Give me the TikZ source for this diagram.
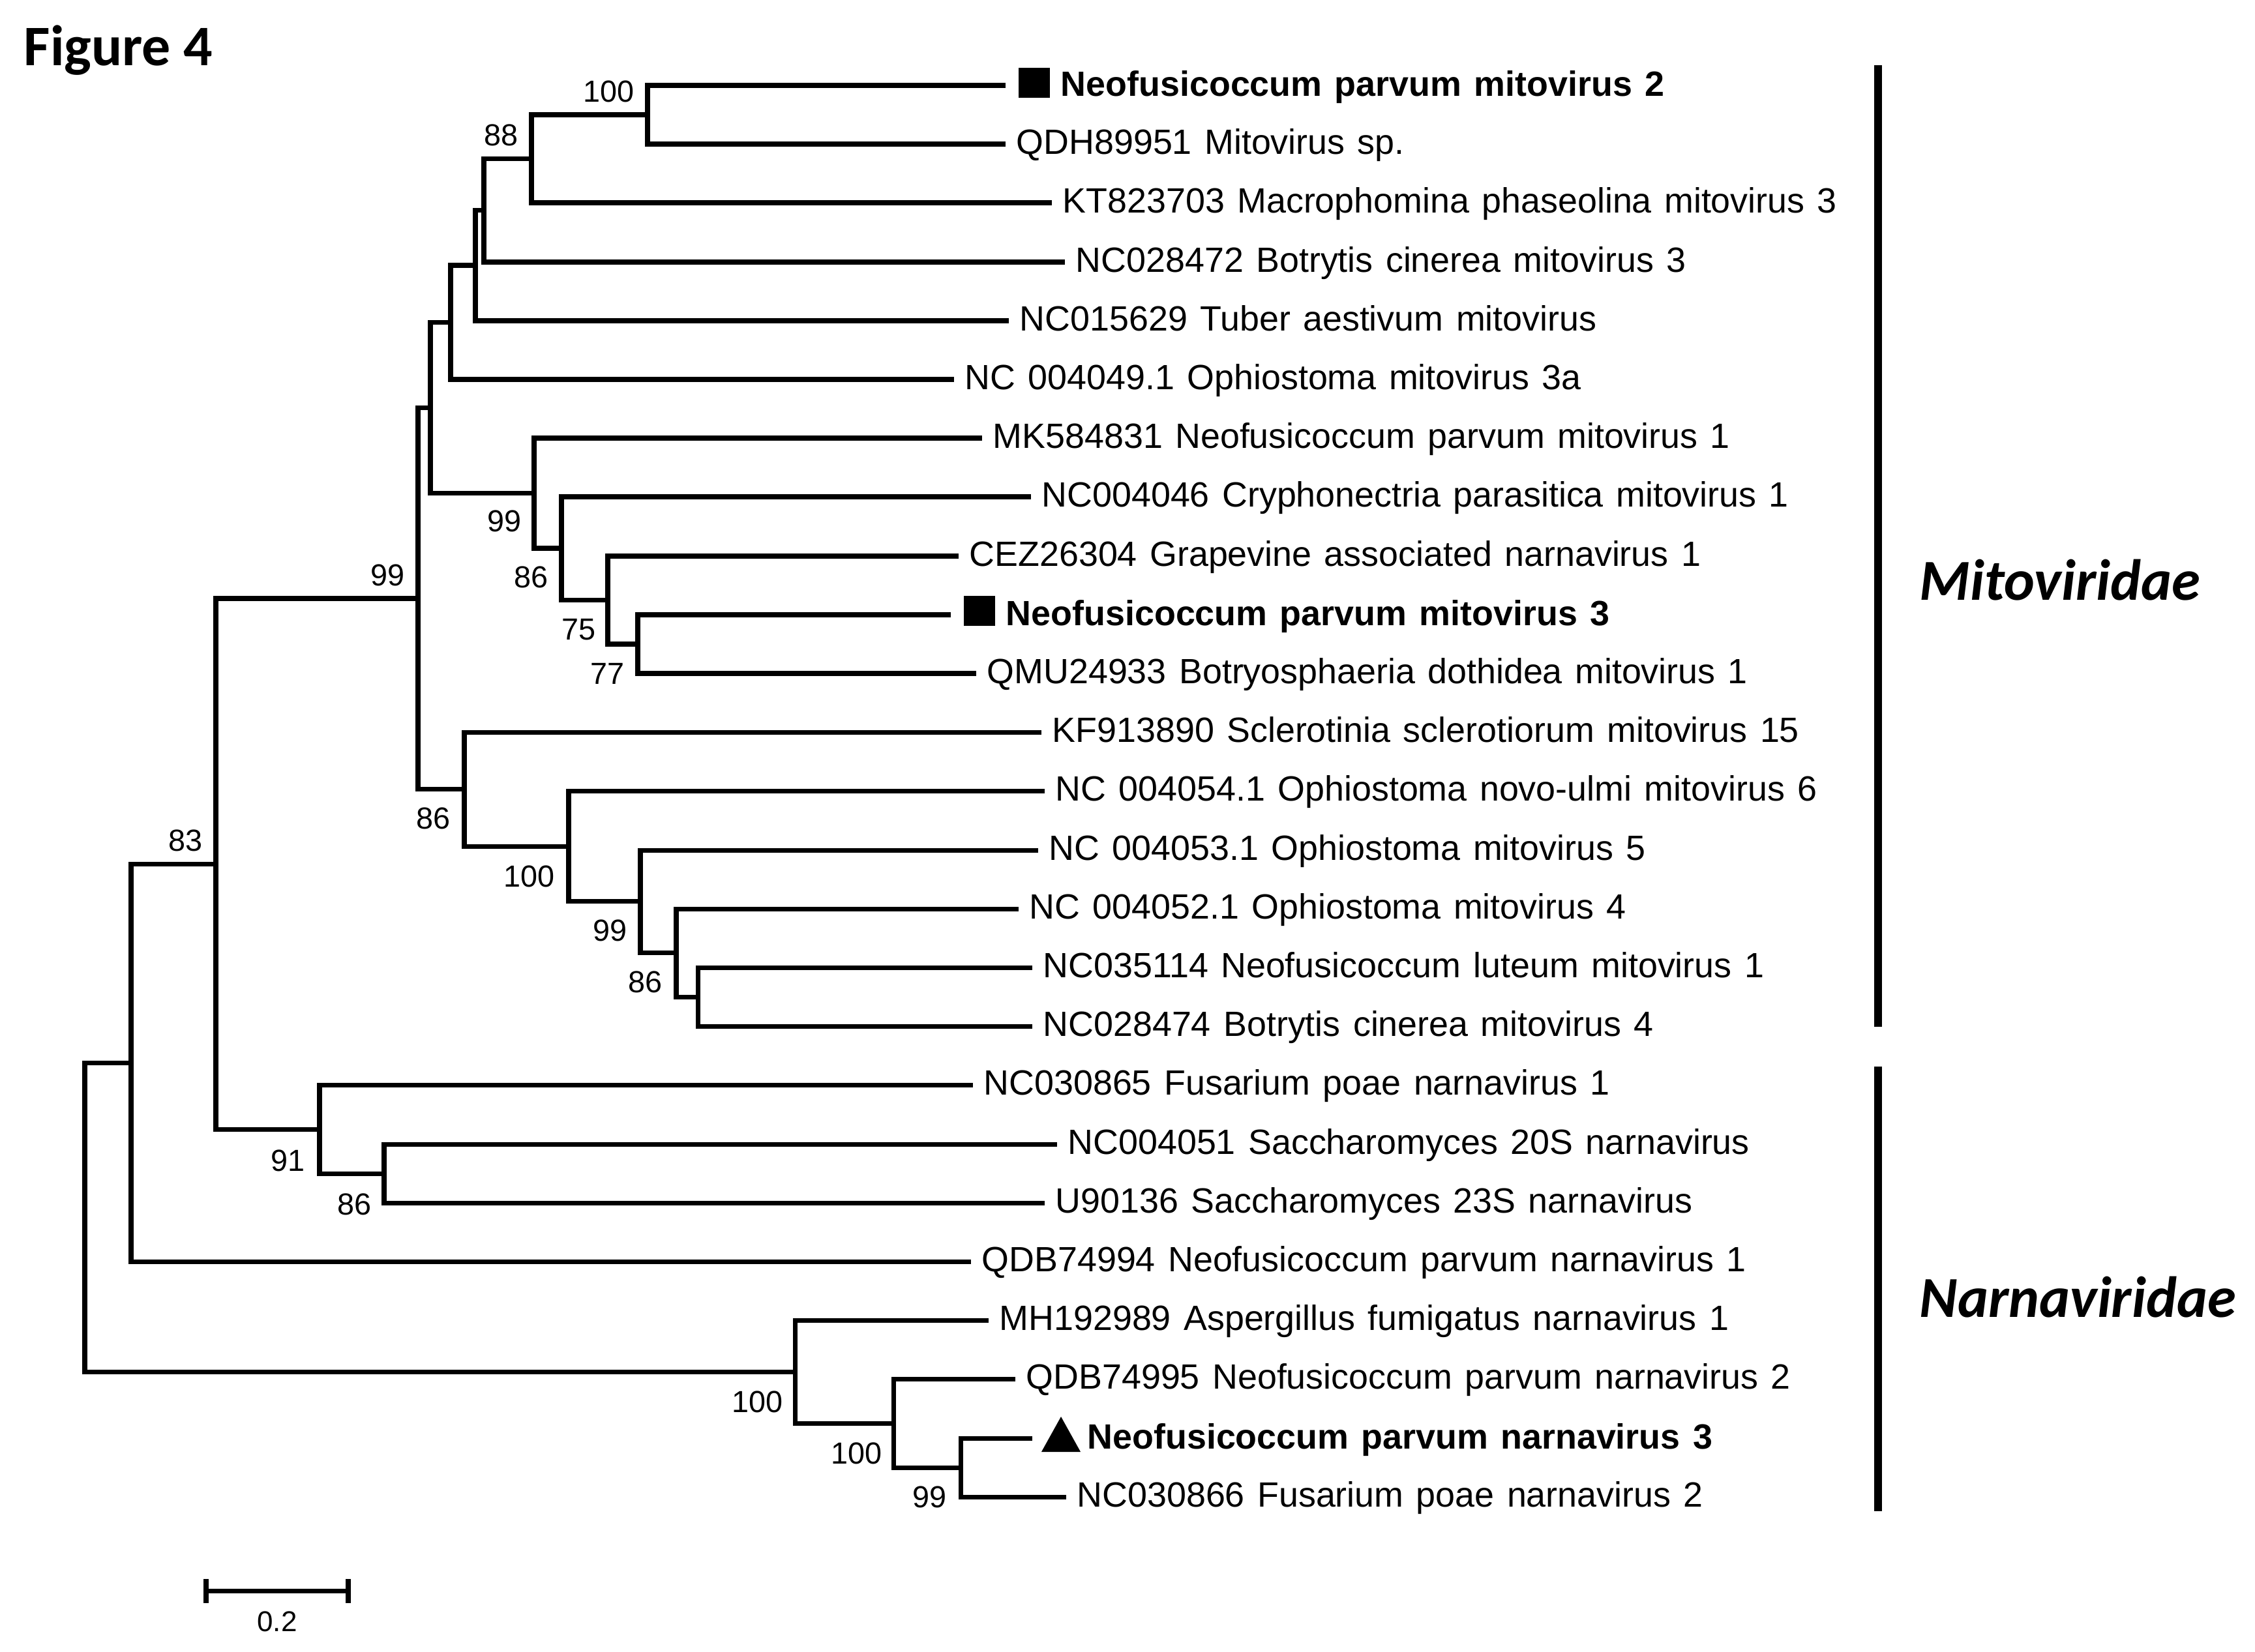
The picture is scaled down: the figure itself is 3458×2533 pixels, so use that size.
\documentclass[tikz,border=0pt]{standalone}
\usepackage{fontspec}
\newfontfamily\leaffont[WordSpace=1.3]{Liberation Sans}
\newfontfamily\calfont{Carlito}
\begin{document}
\begin{tikzpicture}[x=0.01cm,y=-0.01cm]
\tikzset{
  branch/.style={line width=2pt, line join=miter},
  famline/.style={line width=3.4pt},
  leaflab/.style={anchor=base west, inner sep=0pt, font=\leaffont\fontsize{15.3pt}{18pt}\selectfont},
  boldlab/.style={leaflab, font=\leaffont\fontsize{15.3pt}{18pt}\selectfont\bfseries},
  bsab/.style={anchor=base east, inner sep=0pt, font=\leaffont\fontsize{13.3pt}{16pt}\selectfont},
  sqmark/.style={fill=black, inner sep=0pt, minimum width=0.48cm, minimum height=0.46cm},
  famlab/.style={anchor=base west, inner sep=0pt, font=\calfont\fontsize{25.3pt}{30pt}\selectfont\bfseries\itshape},
}
\useasboundingbox (0,0) rectangle (3458,2533);

% title
\node[anchor=base west, inner sep=0pt, font=\calfont\fontsize{25pt}{30pt}\selectfont\bfseries] (title) at (36,100) {Figure 4};

% leaf tips
\coordinate (l1) at (1542,131);
\coordinate (l2) at (1542,221);
\coordinate (l3) at (1613,311);
\coordinate (l4) at (1633,402);
\coordinate (l5) at (1547,492);
\coordinate (l6) at (1463,582);
\coordinate (l7) at (1506,672);
\coordinate (l8) at (1581,762);
\coordinate (l9) at (1470,853);
\coordinate (l10) at (1458,943);
\coordinate (l11) at (1497,1033);
\coordinate (l12) at (1597,1123);
\coordinate (l13) at (1602,1213);
\coordinate (l14) at (1592,1304);
\coordinate (l15) at (1562,1394);
\coordinate (l16) at (1583,1484);
\coordinate (l17) at (1583,1574);
\coordinate (l18) at (1492,1664);
\coordinate (l19) at (1621,1755);
\coordinate (l20) at (1602,1845);
\coordinate (l21) at (1489,1935);
\coordinate (l22) at (1516,2025);
\coordinate (l23) at (1557,2115);
\coordinate (l24) at (1583,2206);
\coordinate (l25) at (1635,2296);

% internal nodes
\coordinate (A) at (993,176);
\coordinate (B) at (815,243.5);
\coordinate (C) at (742,322.5);
\coordinate (D) at (729,407);
\coordinate (E) at (691,494.5);
\coordinate (I) at (978,988);
\coordinate (H) at (932,920.5);
\coordinate (G) at (861,841);
\coordinate (F) at (819,756.5);
\coordinate (J) at (660,625.5);
\coordinate (O) at (1070,1529);
\coordinate (N) at (1037,1461.5);
\coordinate (M) at (982,1382.5);
\coordinate (L) at (872,1298);
\coordinate (K) at (712,1210.5);
\coordinate (P) at (641,918);
\coordinate (R) at (589,1800);
\coordinate (Q) at (490,1732);
\coordinate (S) at (331,1325);
\coordinate (T) at (201,1630);
\coordinate (W) at (1473,2251);
\coordinate (V) at (1370,2183);
\coordinate (U) at (1219,2104);
\coordinate (root) at (130,1867);

% branches
\draw[branch] (A) |- (l1);  \draw[branch] (A) |- (l2);
\draw[branch] (B) |- (A);   \draw[branch] (B) |- (l3);
\draw[branch] (C) |- (B);   \draw[branch] (C) |- (l4);
\draw[branch] (D) |- (C);   \draw[branch] (D) |- (l5);
\draw[branch] (E) |- (D);   \draw[branch] (E) |- (l6);
\draw[branch] (I) |- (l10); \draw[branch] (I) |- (l11);
\draw[branch] (H) |- (l9);  \draw[branch] (H) |- (I);
\draw[branch] (G) |- (l8);  \draw[branch] (G) |- (H);
\draw[branch] (F) |- (l7);  \draw[branch] (F) |- (G);
\draw[branch] (J) |- (E);   \draw[branch] (J) |- (F);
\draw[branch] (O) |- (l16); \draw[branch] (O) |- (l17);
\draw[branch] (N) |- (l15); \draw[branch] (N) |- (O);
\draw[branch] (M) |- (l14); \draw[branch] (M) |- (N);
\draw[branch] (L) |- (l13); \draw[branch] (L) |- (M);
\draw[branch] (K) |- (l12); \draw[branch] (K) |- (L);
\draw[branch] (P) |- (J);   \draw[branch] (P) |- (K);
\draw[branch] (R) |- (l19); \draw[branch] (R) |- (l20);
\draw[branch] (Q) |- (l18); \draw[branch] (Q) |- (R);
\draw[branch] (S) |- (P);   \draw[branch] (S) |- (Q);
\draw[branch] (T) |- (S);   \draw[branch] (T) |- (l21);
\draw[branch] (W) |- (l24); \draw[branch] (W) |- (l25);
\draw[branch] (V) |- (l23); \draw[branch] (V) |- (W);
\draw[branch] (U) |- (l22); \draw[branch] (U) |- (V);
\draw[branch] (root) |- (T); \draw[branch] (root) |- (U);

% bootstrap values
\path (A) ++(-20,-20) node[bsab] (bA) {100};
\path (B) ++(-20,-20) node[bsab] (bB) {88};
\path (P) ++(-20,-20) node[bsab] (bP) {99};
\path (S) ++(-20,-20) node[bsab] (bS) {83};
\path (F) ++(-19,59) node[bsab] (bF) {99};
\path (G) ++(-20,60) node[bsab] (bG) {86};
\path (H) ++(-18,61) node[bsab] (bH) {75};
\path (I) ++(-20,61) node[bsab] (bI) {77};
\path (K) ++(-21,61) node[bsab] (bK) {86};
\path (L) ++(-21,62) node[bsab] (bL) {100};
\path (M) ++(-20,61) node[bsab] (bM) {99};
\path (N) ++(-21,61) node[bsab] (bN) {86};
\path (Q) ++(-22,64) node[bsab] (bQ) {91};
\path (R) ++(-19,63) node[bsab] (bR) {86};
\path (U) ++(-18,62) node[bsab] (bU) {100};
\path (V) ++(-17,62) node[bsab] (bV) {100};
\path (W) ++(-21,61) node[bsab] (bW) {99};

% markers
\path (l1) ++(43.5,-4) node[sqmark] (m1) {};
\path (l10) ++(43.5,-6) node[sqmark] (m10) {};
\fill (l24) ++(14,21) -- ++(60,0) -- ++(-30,-54) -- cycle;

% leaf labels
\path (m1.east) ++(16,20) node[boldlab] (t1) {Neofusicoccum parvum mitovirus 2};
\path (l2) ++(16,15) node[leaflab] (t2) {QDH89951 Mitovirus sp.};
\path (l3) ++(16,15) node[leaflab] (t3) {KT823703 Macrophomina phaseolina mitovirus 3};
\path (l4) ++(16,15) node[leaflab] (t4) {NC028472 Botrytis cinerea mitovirus 3};
\path (l5) ++(16,15) node[leaflab] (t5) {NC015629 Tuber aestivum mitovirus};
\path (l6) ++(16,15) node[leaflab] (t6) {NC 004049.1 Ophiostoma mitovirus 3a};
\path (l7) ++(16,15) node[leaflab] (t7) {MK584831 Neofusicoccum parvum mitovirus 1};
\path (l8) ++(16,15) node[leaflab] (t8) {NC004046 Cryphonectria parasitica mitovirus 1};
\path (l9) ++(16,15) node[leaflab] (t9) {CEZ26304 Grapevine associated narnavirus 1};
\path (m10.east) ++(16,22) node[boldlab] (t10) {Neofusicoccum parvum mitovirus 3};
\path (l11) ++(16,15) node[leaflab] (t11) {QMU24933 Botryosphaeria dothidea mitovirus 1};
\path (l12) ++(16,15) node[leaflab] (t12) {KF913890 Sclerotinia sclerotiorum mitovirus 15};
\path (l13) ++(16,15) node[leaflab] (t13) {NC 004054.1 Ophiostoma novo-ulmi mitovirus 6};
\path (l14) ++(16,15) node[leaflab] (t14) {NC 004053.1 Ophiostoma mitovirus 5};
\path (l15) ++(16,15) node[leaflab] (t15) {NC 004052.1 Ophiostoma mitovirus 4};
\path (l16) ++(16,15) node[leaflab] (t16) {NC035114 Neofusicoccum luteum mitovirus 1};
\path (l17) ++(16,15) node[leaflab] (t17) {NC028474 Botrytis cinerea mitovirus 4};
\path (l18) ++(16,15) node[leaflab] (t18) {NC030865 Fusarium poae narnavirus 1};
\path (l19) ++(16,15) node[leaflab] (t19) {NC004051 Saccharomyces 20S narnavirus};
\path (l20) ++(16,15) node[leaflab] (t20) {U90136 Saccharomyces 23S narnavirus};
\path (l21) ++(16,15) node[leaflab] (t21) {QDB74994 Neofusicoccum parvum narnavirus 1};
\path (l22) ++(16,15) node[leaflab] (t22) {MH192989 Aspergillus fumigatus narnavirus 1};
\path (l23) ++(16,15) node[leaflab] (t23) {QDB74995 Neofusicoccum parvum narnavirus 2};
\path (l24) ++(84,16) node[boldlab] (t24) {Neofusicoccum parvum narnavirus 3};
\path (l25) ++(16,15) node[leaflab] (t25) {NC030866 Fusarium poae narnavirus 2};

% family bars and labels
\coordinate (mt) at (2880,100);  \coordinate (mb) at (2880,1575);
\coordinate (nt) at (2880,1636); \coordinate (nb) at (2880,2318);
\draw[famline] (mt) -- (mb);
\draw[famline] (nt) -- (nb);
\node[famlab] (fam1) at (2943,920) {Mitoviridae};
\node[famlab] (fam2) at (2943,2020) {Narnaviridae};

% scale bar
\coordinate (sb1) at (316,2440); \coordinate (sb2) at (534,2440);
\draw[branch] (sb1) -- (sb2);
\draw[branch] (sb1) ++(0,-18) -- ++(0,37);
\draw[branch] (sb2) ++(0,-18) -- ++(0,37);
\node[anchor=base, inner sep=0pt, font=\leaffont\fontsize{12.5pt}{15pt}\selectfont] (sbl) at (425,2502) {0.2};
\end{tikzpicture}
\end{document}
